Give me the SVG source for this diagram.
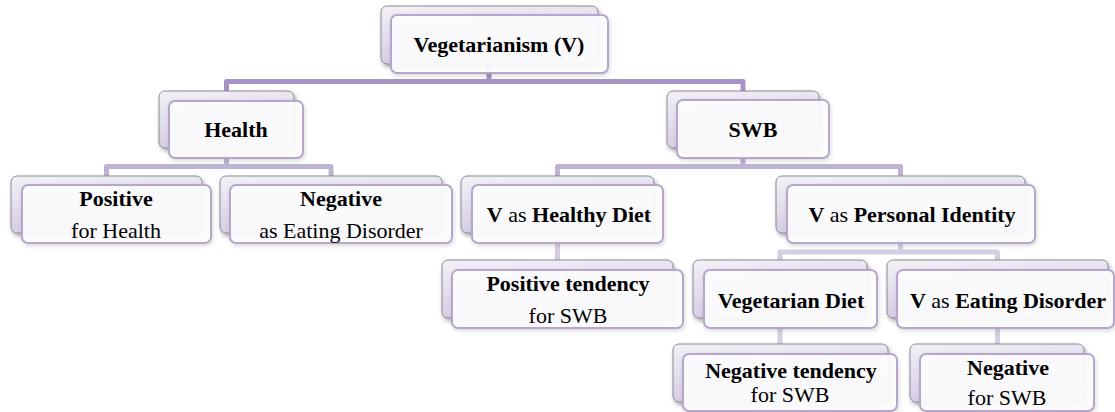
<svg xmlns="http://www.w3.org/2000/svg" width="1115" height="412" viewBox="0 0 1115 412">
<defs>
<linearGradient id="backGrad" x1="0" y1="0" x2="0.3" y2="1">
<stop offset="0" stop-color="#f3f1f7"/>
<stop offset="1" stop-color="#d3cae2"/>
</linearGradient>
<filter id="shBack" x="-10%" y="-20%" width="125%" height="150%">
<feDropShadow dx="1.5" dy="2.5" stdDeviation="2" flood-color="#000" flood-opacity="0.35"/>
</filter>
<filter id="shFront" x="-10%" y="-20%" width="125%" height="150%">
<feDropShadow dx="1" dy="2" stdDeviation="2" flood-color="#000" flood-opacity="0.15"/>
</filter>
</defs>
<style>
.back{fill:url(#backGrad);stroke:#8e8a94;stroke-width:1;filter:url(#shBack)}
.front{fill:#fdfdfe;fill-opacity:0.93;stroke:#b6a6cd;stroke-width:2;filter:url(#shFront)}
.c{fill:none;stroke-width:5;stroke-linejoin:round}
.c1{stroke:#a793c5}
.c2{stroke:#bfb3d4}
.c3{stroke:#d6cee4}
text{font-family:"Liberation Serif","Times New Roman",serif;font-size:22px;fill:#000;text-anchor:middle}
.b{font-weight:bold}
</style>
<rect width="1115" height="412" fill="#ffffff"/>
<g id="connectors">
<path class="c c1" d="M226.5,95 V81.5 H743 V95 M489,60 V81.5"/>
<path class="c c2" d="M106.5,180 V166.5 H331 V180 M226.5,150 V166.5"/>
<path class="c c2" d="M557.5,180 V166.5 H900.5 V180 M743,150 V166.5"/>
<path class="c c3" d="M557.5,240 V264"/>
<path class="c c3" d="M780,264 V252 H997.5 V264 M900.5,240 V252"/>
<path class="c c3" d="M780,320 V348 M997.5,320 V348"/>
</g>
<g id="node-vegetarianism">
<rect class="back" x="381" y="6" width="217" height="58" rx="6"/>
<rect class="front" x="391" y="15" width="217" height="58" rx="6"/>
<text class="b" x="499" y="52">Vegetarianism (V)</text>
</g>
<g id="node-health">
<rect class="back" x="159" y="91" width="135" height="57" rx="6"/>
<rect class="front" x="169" y="101" width="134" height="57" rx="6"/>
<text class="b" x="236" y="137">Health</text>
</g>
<g id="node-swb">
<rect class="back" x="667" y="91" width="152" height="57" rx="6"/>
<rect class="front" x="677" y="100" width="152" height="58" rx="6"/>
<text class="b" x="753" y="137">SWB</text>
</g>
<g id="node-positive-health">
<rect class="back" x="11" y="176" width="191" height="57" rx="6"/>
<rect class="front" x="22" y="185" width="189" height="58" rx="6"/>
<text class="b" x="116" y="206">Positive</text>
<text x="116" y="238">for Health</text>
</g>
<g id="node-negative-health">
<rect class="back" x="220" y="176" width="222" height="57" rx="6"/>
<rect class="front" x="230" y="185" width="222" height="58" rx="6"/>
<text class="b" x="341" y="206">Negative</text>
<text x="341" y="238">as Eating Disorder</text>
</g>
<g id="node-healthy-diet">
<rect class="back" x="461" y="176" width="193" height="57" rx="6"/>
<rect class="front" x="472" y="185" width="191" height="58" rx="6"/>
<text x="569" y="222"><tspan class="b">V</tspan> as <tspan class="b">Healthy Diet</tspan></text>
</g>
<g id="node-personal-identity">
<rect class="back" x="776" y="176" width="249" height="57" rx="6"/>
<rect class="front" x="787" y="185" width="248" height="58" rx="6"/>
<text x="912" y="222"><tspan class="b">V</tspan> as <tspan class="b">Personal Identity</tspan></text>
</g>
<g id="node-positive-tendency">
<rect class="back" x="442" y="260" width="231" height="58" rx="6"/>
<rect class="front" x="452" y="270" width="231" height="58" rx="6"/>
<text class="b" x="568" y="291">Positive tendency</text>
<text x="568" y="323">for SWB</text>
</g>
<g id="node-vegetarian-diet">
<rect class="back" x="693" y="260" width="174" height="58" rx="6"/>
<rect class="front" x="704" y="270" width="173" height="58" rx="6"/>
<text class="b" x="791" y="308">Vegetarian Diet</text>
</g>
<g id="node-eating-disorder">
<rect class="back" x="887" y="260" width="221" height="58" rx="6"/>
<rect class="front" x="897" y="270" width="217" height="58" rx="6"/>
<text x="1008" y="308"><tspan class="b">V</tspan> as <tspan class="b">Eating Disorder</tspan></text>
</g>
<g id="node-negative-tendency">
<rect class="back" x="673" y="344" width="215" height="58" rx="6"/>
<rect class="front" x="683" y="354" width="214" height="57" rx="6"/>
<text class="b" x="791" y="378">Negative tendency</text>
<text x="790" y="402">for SWB</text>
</g>
<g id="node-negative-swb">
<rect class="back" x="910" y="344" width="174" height="58" rx="6"/>
<rect class="front" x="920" y="354" width="174" height="57" rx="6"/>
<text class="b" x="1008" y="375">Negative</text>
<text x="1007" y="405">for SWB</text>
</g>
</svg>
